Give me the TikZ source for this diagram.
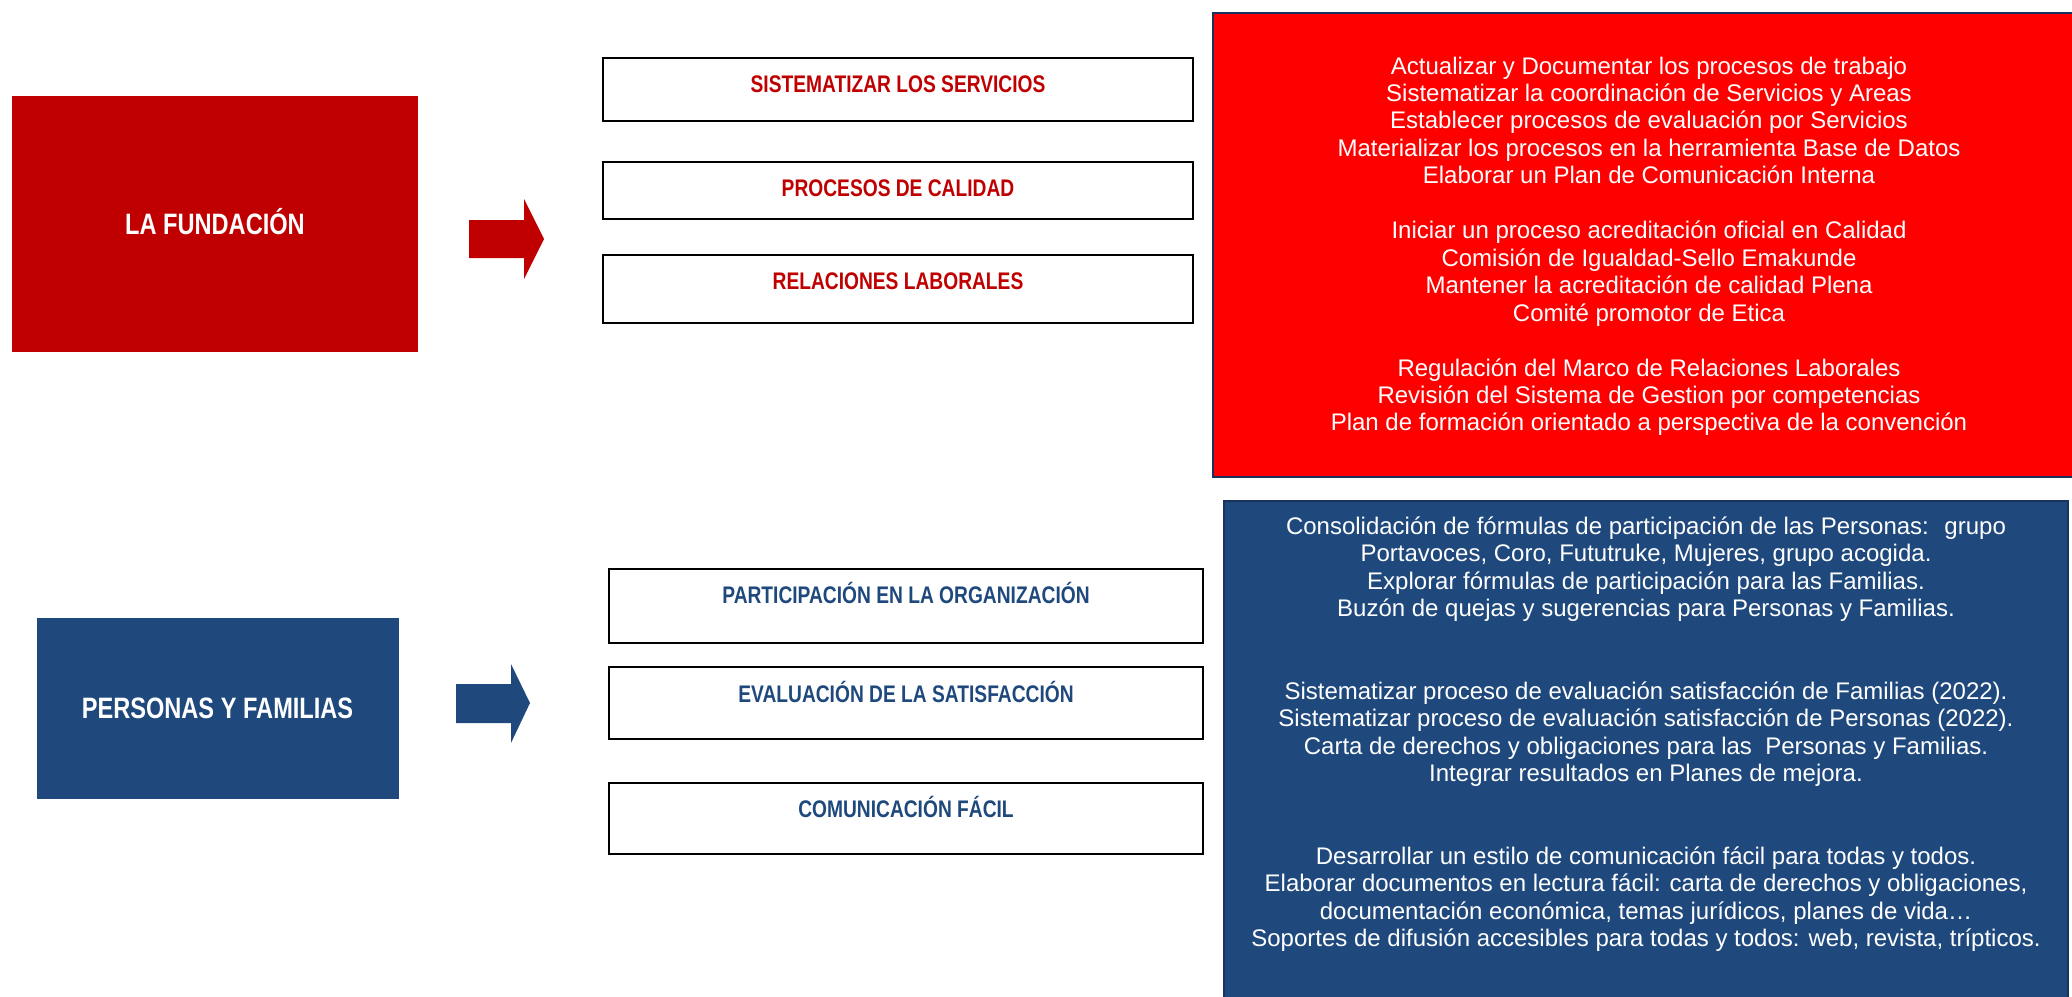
\documentclass[tikz,border=0pt]{standalone}
\usepackage{fontspec}
\setmainfont{Liberation Sans}
\newfontfamily\hdfont[FakeStretch=0.8]{Liberation Sans}
\definecolor{hdred}{HTML}{C00000}
\definecolor{brightred}{HTML}{FF0000}
\definecolor{hdblue}{HTML}{1F497D}
\definecolor{edgenavy}{HTML}{17325C}
\tikzset{
  bigbox/.style={rectangle, inner sep=0pt, outer sep=0pt, text=white,
    font=\hdfont\bfseries\fontsize{29.5}{31}\selectfont, text height=21pt, text depth=0pt},
  itembox/.style={rectangle, draw=black, line width=2pt, fill=white, inner sep=0pt, outer sep=0pt},
  itemtxt/.style={anchor=base, inner sep=0pt, font=\hdfont\bfseries\fontsize{24}{26}\selectfont},
  listbox/.style={rectangle, draw=edgenavy, line width=1.6pt, inner sep=0pt, outer sep=0pt},
  bodytxt/.style={anchor=base, inner sep=0pt, text=white, font=\fontsize{24}{27.46}\selectfont},
}
\begin{document}
\begin{tikzpicture}[x=1pt,y=-1pt]
\useasboundingbox (0,0) rectangle (2072,996);

% ---------- LA FUNDACION ----------
\node[bigbox, fill=hdred, minimum width=406pt, minimum height=256pt] (lf) at (215,224) {LA FUNDACIÓN};
\fill[hdred] (469,220) -- (524,220) -- (524,199) -- (544,239) -- (524,279) -- (524,258) -- (469,258) -- cycle;

\node[itembox, minimum width=590pt, minimum height=63pt] (s1) at (898,89.5) {};
\node[itembox, minimum width=590pt, minimum height=57pt] (s2) at (898,190.5) {};
\node[itembox, minimum width=590pt, minimum height=68pt] (s3) at (898,289) {};
\node[itemtxt, text=hdred] (s1t) at (898,92) {SISTEMATIZAR LOS SERVICIOS};
\node[itemtxt, text=hdred] (s2t) at (898,196) {PROCESOS DE CALIDAD};
\node[itemtxt, text=hdred] (s3t) at (898,289) {RELACIONES LABORALES};

\node[listbox, fill=brightred, minimum width=872pt, minimum height=464pt] (rl) at (1649,245) {};
\foreach \k/\t [count=\i] in {
  0/{Actualizar y Documentar los procesos de trabajo},
  1/{Sistematizar la coordinación de Servicios y Areas},
  2/{Establecer procesos de evaluación por Servicios},
  3/{Materializar los procesos en la herramienta Base de Datos},
  4/{Elaborar un Plan de Comunicación Interna},
  6/{Iniciar un proceso acreditación oficial en Calidad},
  7/{Comisión de Igualdad-Sello Emakunde},
  8/{Mantener la acreditación de calidad Plena},
  9/{Comité promotor de Etica},
  11/{Regulación del Marco de Relaciones Laborales},
  12/{Revisión del Sistema de Gestion por competencias},
  13/{Plan de formación orientado a perspectiva de la convención}}
  {\node[bodytxt] (r\i) at (1649,{74+\k*27.46}) {\t};}

% ---------- PERSONAS Y FAMILIAS ----------
\node[bigbox, fill=hdblue, minimum width=362pt, minimum height=181pt] (pf) at (217.5,708) {PERSONAS Y FAMILIAS};
\fill[hdblue] (456,684) -- (511,684) -- (511,664) -- (530,703) -- (511,743) -- (511,723) -- (456,723) -- cycle;

\node[itembox, minimum width=594pt, minimum height=74pt] (p1) at (906,606) {};
\node[itembox, minimum width=594pt, minimum height=72pt] (p2) at (906,703) {};
\node[itembox, minimum width=594pt, minimum height=71pt] (p3) at (906,818.5) {};
\node[itemtxt, text=hdblue] (p1t) at (906,603) {PARTICIPACIÓN EN LA ORGANIZACIÓN};
\node[itemtxt, text=hdblue] (p2t) at (906,702) {EVALUACIÓN DE LA SATISFACCIÓN};
\node[itemtxt, text=hdblue] (p3t) at (906,817) {COMUNICACIÓN FÁCIL};

\node[listbox, fill=hdblue, minimum width=844pt, minimum height=520pt] (bl) at (1646,761) {};
\foreach \k/\t [count=\i] in {
  0/{Consolidación de fórmulas de participación de las Personas:~ grupo},
  1/{Portavoces, Coro, Fututruke, Mujeres, grupo acogida.},
  2/{Explorar fórmulas de participación para las Familias.},
  3/{Buzón de quejas y sugerencias para Personas y Familias.},
  6/{Sistematizar proceso de evaluación satisfacción de Familias (2022).},
  7/{Sistematizar proceso de evaluación satisfacción de Personas (2022).},
  8/{Carta de derechos y obligaciones para las~ Personas y Familias.},
  9/{Integrar resultados en Planes de mejora.},
  12/{Desarrollar un estilo de comunicación fácil para todas y todos.},
  13/{Elaborar documentos en lectura fácil: carta de derechos y obligaciones,},
  14/{documentación económica, temas jurídicos, planes de vida…},
  15/{Soportes de difusión accesibles para todas y todos: web, revista, trípticos.}}
  {\node[bodytxt] (b\i) at (1646,{534+\k*27.5}) {\t};}
\end{tikzpicture}
\end{document}
